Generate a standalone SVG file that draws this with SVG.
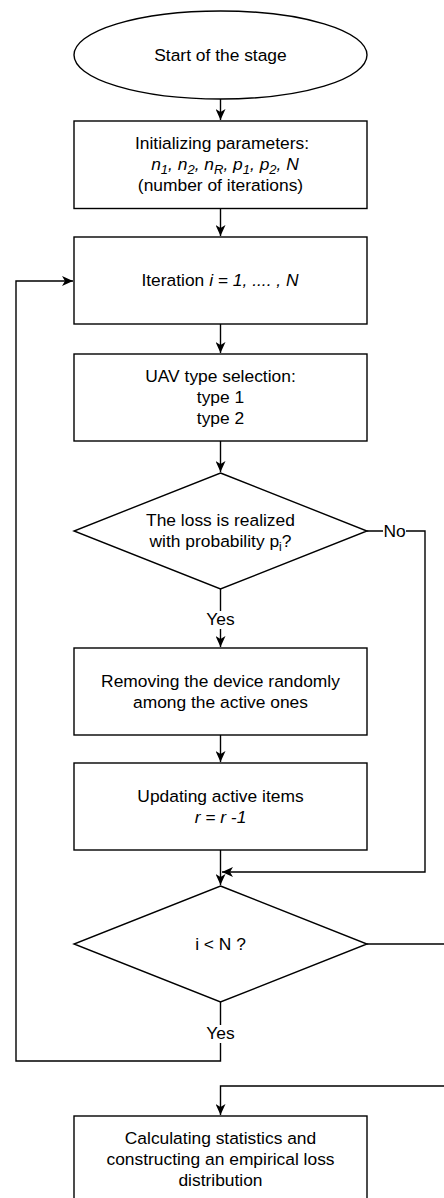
<svg xmlns="http://www.w3.org/2000/svg" width="444" height="1198" viewBox="0 0 444 1198">
<style>
.s{fill:#fff;stroke:#000;stroke-width:1.4}
.t{font-family:"Liberation Sans",Arial,sans-serif;font-size:17.4px;fill:#000;text-anchor:middle}
.it{font-style:italic}
.c{fill:none;stroke:#000;stroke-width:1.4}
.bg{fill:#fff;stroke:none}
</style>
<defs>
<marker id="ah" markerUnits="userSpaceOnUse" markerWidth="12" markerHeight="10" refX="11" refY="5" orient="auto">
<path d="M0,0 L11,5 L0,10 L3,5 z" fill="#000"/>
</marker>
</defs>
<rect width="444" height="1198" fill="#fff"/>
<g id="connectors">
<path class="c" d="M220.5,99 V120" marker-end="url(#ah)"/>
<path class="c" d="M220.5,208.5 V236" marker-end="url(#ah)"/>
<path class="c" d="M220.5,324 V353" marker-end="url(#ah)"/>
<path class="c" d="M220.5,441 V472" marker-end="url(#ah)"/>
<path class="c" d="M220.5,589 V647" marker-end="url(#ah)"/>
<path class="c" d="M220.5,735 V762" marker-end="url(#ah)"/>
<path class="c" d="M220.5,850 V885" marker-end="url(#ah)"/>
<path class="c" d="M366.5,531 H425 V872 H222" marker-end="url(#ah)"/>
<path class="c" d="M366.5,944 H450"/>
<path class="c" d="M450,1086 H220.5 V1115" marker-end="url(#ah)"/>
<path class="c" d="M220.5,1002 V1061 H16 V281 H73" marker-end="url(#ah)"/>
<rect class="bg" x="205" y="611" width="31" height="18"/>
<text class="t" x="220.5" y="625">Yes</text>
<rect class="bg" x="383" y="522" width="23" height="18"/>
<text class="t" x="394.5" y="537">No</text>
<rect class="bg" x="205" y="1025" width="31" height="18"/>
<text class="t" x="220.5" y="1039">Yes</text>
</g>
<g id="start">
<ellipse class="s" cx="220.5" cy="55" rx="146.5" ry="44"/>
<text class="t" x="220.5" y="61">Start of the stage</text>
</g>
<g id="init">
<rect class="s" x="74" y="121" width="293" height="87.5"/>
<text class="t" x="222" y="149">Initializing parameters:</text>
<text class="t it" x="225" y="170">n<tspan dy="4" font-size="13">1</tspan><tspan dy="-4">, n</tspan><tspan dy="4" font-size="13">2</tspan><tspan dy="-4">, n</tspan><tspan dy="4" font-size="13">R</tspan><tspan dy="-4">, p</tspan><tspan dy="4" font-size="13">1</tspan><tspan dy="-4">, p</tspan><tspan dy="4" font-size="13">2</tspan><tspan dy="-4">, N</tspan></text>
<text class="t" x="220.5" y="191">(number of iterations)</text>
</g>
<g id="iteration">
<rect class="s" x="74" y="237" width="293" height="87"/>
<text class="t" x="220" y="286">Iteration <tspan class="it">i = 1, .... , N</tspan></text>
</g>
<g id="uav">
<rect class="s" x="74" y="354" width="293" height="87"/>
<text class="t" x="220.5" y="382">UAV type selection:</text>
<text class="t" x="220.5" y="403">type 1</text>
<text class="t" x="220.5" y="424">type 2</text>
</g>
<g id="loss">
<path class="s" d="M220.5,473 L367,531 L220.5,589 L74,531 Z"/>
<text class="t" x="220.5" y="526">The loss is realized</text>
<text class="t" x="220.5" y="547">with probability p<tspan dy="4" font-size="12">i</tspan><tspan dy="-4">?</tspan></text>
</g>
<g id="remove">
<rect class="s" x="74" y="648" width="293" height="87"/>
<text class="t" x="220.5" y="687">Removing the device randomly</text>
<text class="t" x="220.5" y="708">among the active ones</text>
</g>
<g id="update">
<rect class="s" x="74" y="763" width="293" height="87"/>
<text class="t" x="220.5" y="802">Updating active items</text>
<text class="t it" x="220.5" y="823">r = r -1</text>
</g>
<g id="check">
<path class="s" d="M220.5,886 L367,944 L220.5,1002 L74,944 Z"/>
<text class="t" x="220.5" y="950">i &lt; N ?</text>
</g>
<g id="stats">
<rect class="s" x="74" y="1116" width="293" height="90"/>
<text class="t" x="220.5" y="1144">Calculating statistics and</text>
<text class="t" x="220.5" y="1165">constructing an empirical loss</text>
<text class="t" x="220.5" y="1186">distribution</text>
</g>
</svg>
